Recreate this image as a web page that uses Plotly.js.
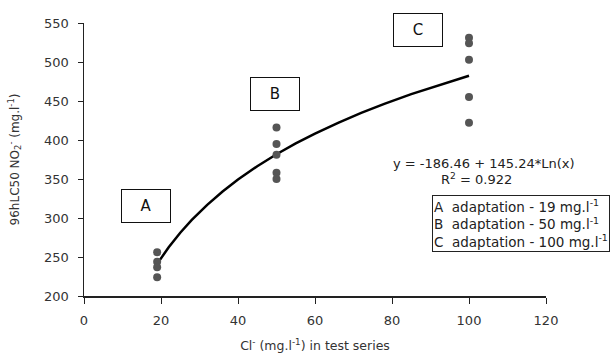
<!DOCTYPE html>
<html><head><meta charset="utf-8">
<script src="https://cdn.plot.ly/plotly-3.0.1.min.js"></script>
<style>body{margin:0;background:#fff}#c{width:611px;height:354px}</style>
</head><body><div id="c"></div>
<script>
const xA = [19,19,19,19];
const yA = [256,244,237,224];
const xB = [50,50,50,50,50];
const yB = [416,395,381,358,350];
const xC = [100,100,100,100,100];
const yC = [531,524,503,455,422];
const fitA = -186.46, fitB = 145.24;
const fitX = [19,22,25,28,32,36,40,45,50,55,60,66,72,78,85,92,100];
const fitY = fitX.map(x => fitA + fitB*Math.log(x));
const xTicks = [0,20,40,60,80,100,120];
const yTicks = [200,250,300,350,400,450,500,550];

const F = "DejaVu Sans, Arial, sans-serif";
const traces = [
  {x: fitX, y: fitY, mode:'lines', line:{color:'#000', width:2.5}, hoverinfo:'skip'},
  {x: xA.concat(xB, xC), y: yA.concat(yB, yC), mode:'markers', marker:{color:'#555', size:8}}
];
const box = (t,x,y)=>({x:x,y:y,xref:'x',yref:'y',text:t,showarrow:false,font:{family:F,size:15,color:'#111'},
  bordercolor:'#111',borderwidth:1,width:46,height:30,bgcolor:'#fff',xanchor:'center',yanchor:'middle'});
const layout = {
  width:611,height:354,showlegend:false,
  margin:{l:84,r:65,t:23,b:58},
  paper_bgcolor:'#fff',plot_bgcolor:'#fff',
  font:{family:F,size:13,color:'#333'},
  xaxis:{range:[0,120],tickvals:xTicks,showgrid:false,zeroline:false,showline:true,linecolor:'#222',linewidth:1.5,
    ticks:'outside',ticklen:6,tickcolor:'#222',ticklabelstandoff:6,tickfont:{family:F,size:13,color:'#333'},
    title:{text:'Cl<sup>-</sup> (mg.l<sup>-1</sup>) in test series',font:{family:F,size:12.5,color:'#333'},standoff:14}},
  yaxis:{range:[200,550],tickvals:yTicks,showgrid:false,zeroline:false,showline:true,linecolor:'#222',linewidth:1.5,
    ticks:'outside',ticklen:5,tickcolor:'#222',ticklabelstandoff:6,tickfont:{family:F,size:13,color:'#333'},
    title:{text:'96hLC50 NO<sub>2</sub><sup>-</sup> (mg.l<sup>-1</sup>)',font:{family:F,size:12,color:'#333'},standoff:22}},
  annotations:[
    box('A',16.1,315), box('B',49.5,459.5), box('C',86.7,541),
    {xref:'paper',yref:'paper',x:(484-84)/462,y:(296-163)/273,xanchor:'center',yanchor:'middle',
      text:'y = -186.46 + 145.24*Ln(x)',showarrow:false,font:{family:F,size:13,color:'#222'}},
    {xref:'paper',yref:'paper',x:(476-84)/462,y:(296-179)/273,xanchor:'center',yanchor:'middle',
      text:'R<sup>2</sup> = 0.922',showarrow:false,font:{family:F,size:13,color:'#222'}},
    {xref:'paper',yref:'paper',x:(432-84)/462,xanchor:'left',y:(296-223)/273,yanchor:'middle',align:'left',
      text:'A  adaptation - 19 mg.l<sup>-1</sup><br>B  adaptation - 50 mg.l<sup>-1</sup><br>C  adaptation - 100 mg.l<sup>-1</sup>',
      showarrow:false,font:{family:F,size:13.5,color:'#222'},bordercolor:'#222',borderwidth:1,borderpad:1,bgcolor:'#fff'}
  ]
};
Plotly.newPlot('c',traces,layout,{displayModeBar:false,staticPlot:true});
</script></body></html>
